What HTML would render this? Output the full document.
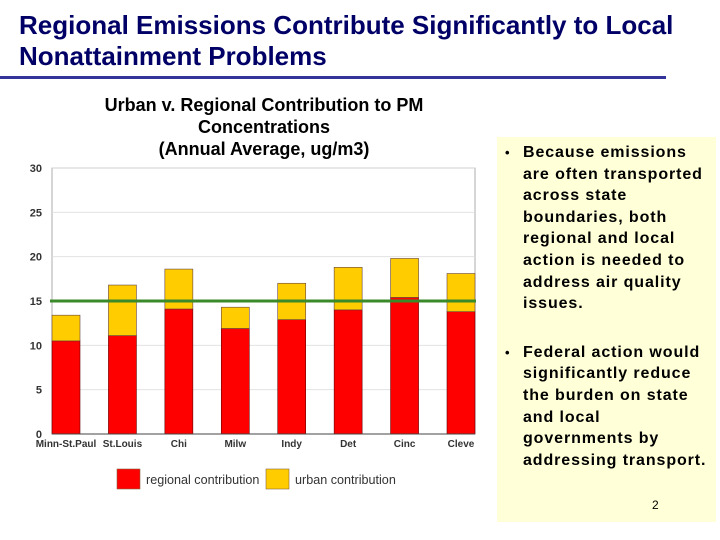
<!DOCTYPE html>
<html><head><meta charset="utf-8"><style>
body{margin:0;width:720px;height:540px;background:#fff;font-family:"Liberation Sans",sans-serif;overflow:hidden;position:relative}
.t{position:absolute;left:19px;top:10px;font-size:26px;font-weight:bold;color:#000066;line-height:31px;white-space:nowrap}
.rule{position:absolute;left:0;top:76px;width:666px;height:3px;background:#333399}
.ct{position:absolute;left:54px;top:94px;width:420px;text-align:center;font-size:18px;font-weight:bold;line-height:22px}
.box{position:absolute;left:497px;top:137px;width:219px;height:385px;background:#ffffd8}
ul{margin:0;padding:0;list-style:none}
li{position:relative;padding-left:26px;font-size:16px;font-weight:bold;line-height:21.6px;margin-top:5px;white-space:nowrap;letter-spacing:0.9px}
li:before{content:"•";position:absolute;left:8px;font-size:13px}
.pg{position:absolute;left:155px;top:361px;font-size:12px}
</style></head><body>
<div class="t">Regional Emissions Contribute Significantly to Local<br>Nonattainment Problems</div>
<div class="rule"></div>
<div class="ct">Urban v. Regional Contribution to PM<br>Concentrations<br>(Annual Average, ug/m3)</div>
<div class="box">
<ul>
<li>Because emissions<br>are often transported<br>across state<br>boundaries, both<br>regional and local<br>action is needed to<br>address air quality<br>issues.</li>
<li style="margin-top:27px">Federal action would<br>significantly reduce<br>the burden on state<br>and local<br>governments by<br>addressing transport.</li>
</ul>
<div class="pg">2</div>
</div>
<svg id="c" width="720" height="540" style="position:absolute;left:0;top:0"></svg>
<script>
const categories=["Minn-St.Paul","St.Louis","Chi","Milw","Indy","Det","Cinc","Cleve"];
const regional=[10.5,11.1,14.1,11.9,12.9,14.0,15.4,13.8];
const totals=[13.4,16.8,18.6,14.3,17.0,18.8,19.8,18.1];
const ticks=[0,5,10,15,20,25,30];
const standard=15;
const NS="http://www.w3.org/2000/svg",svg=document.getElementById('c');
const x0=52,x1=475,y0=434,y1=168;
const Y=v=>y0-(v/30)*(y0-y1);
const step=(x1-x0-28)/(categories.length-1);
const X=i=>x0+i*step;
function mk(t,a,p){const e=document.createElementNS(NS,t);for(const k in a)e.setAttribute(k,a[k]);(p||svg).appendChild(e);return e;}
mk('rect',{x:x0,y:y1,width:x1-x0,height:y0-y1,fill:'#fff',stroke:'#999','stroke-width':0.8});
ticks.forEach(v=>{
 const g=mk('line',{x1:x0,x2:x1,y1:Y(v),y2:Y(v),stroke:'#ddd','stroke-width':0.8});
 
 
 const t=mk('text',{x:42,y:Y(v)+4,'text-anchor':'end','font-size':11,'font-weight':'bold',fill:'#333'});
 t.textContent=v;
 
 
});
categories.forEach((c,i)=>{
 const x=X(i);
 const r=mk('rect',{x:x,y:Y(regional[i]),width:28,height:y0-Y(regional[i]),fill:'#ff0000',stroke:'#600','stroke-width':0.6});
 
 
 const u=mk('rect',{x:x,y:Y(totals[i]),width:28,height:Y(regional[i])-Y(totals[i]),fill:'#ffcc00',stroke:'#644','stroke-width':0.6});
 
 
 const t=mk('text',{x:x+14,y:447,'text-anchor':'middle','font-size':10,'font-weight':'bold',fill:'#333'});
 t.textContent=c;
 
 
});
mk('line',{x1:x0,x2:x1,y1:y0,y2:y0,stroke:'#444','stroke-width':1});
const s=mk('line',{x1:50,x2:476,y1:Y(standard),y2:Y(standard),stroke:'#3a8a2a','stroke-width':3});


const lg=[['#ff0000','regional contribution',117],['#ffcc00','urban contribution',266]];
lg.forEach(l=>{
 const r=mk('rect',{x:l[2],y:469,width:23,height:20,fill:l[0],stroke:'#864','stroke-width':0.6});
 
 
 const t=mk('text',{x:l[2]+29,y:484,'font-size':12.6,fill:'#333'});
 t.textContent=l[1];
 
 
});
</script>
</body></html>
